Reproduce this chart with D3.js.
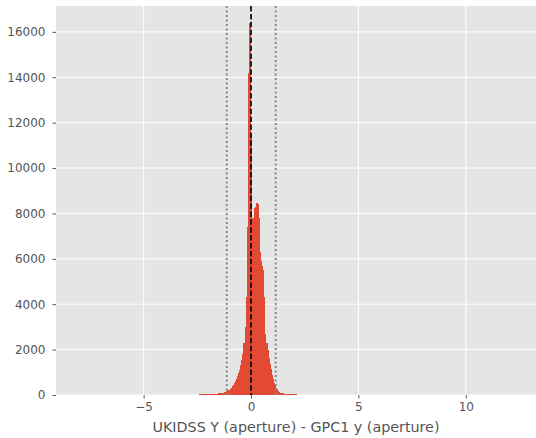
<!DOCTYPE html>
<html>
<head>
<meta charset="utf-8">
<script src="https://cdn.jsdelivr.net/npm/d3@7"></script>
<style>
  body { margin: 0; background: #fff; }
  text { font-family: "DejaVu Sans", sans-serif; }
</style>
</head>
<body>
<div id="chart"></div>
<script>
// histogram bins: left edge of first bin, bin width, counts per bin
let binStart = -2.4;
let binWidth = 0.05;
let counts = [
  30, 35, 35, 35, 40, 40, 40, 40, 40, 45,
  45, 45, 50, 50, 55, 60, 65, 70, 75, 80,
  90, 100, 110, 130, 150, 170, 200, 230, 270, 320,
  380, 440, 520, 600, 700, 820, 950, 1100, 1300, 1550,
  1800, 2300, 3000, 4300, 7400, 14200, 16400, 16400, 11500, 7800,
  7800, 8250, 8300, 8450, 8400, 7800, 6300, 5900, 5700, 5500,
  4300, 2700, 2300, 2000, 1650, 1350, 1150, 900, 700, 530,
  420, 320, 250, 180, 130, 100, 85, 75, 65, 60,
  55, 50, 50, 45, 45, 40, 40, 40, 35, 35
];

let xTicks = [-5, 0, 5, 10];
let yTicks = [0, 2000, 4000, 6000, 8000, 10000, 12000, 14000, 16000];
let xDomain = [-9.08, 13.27];
let yDomain = [0, 17140];

let medianLine = 0;
let limitLines = [-1.13, 1.15];
let xLabel = "UKIDSS Y (aperture) - GPC1 y (aperture)";

let bins = counts.map((c, i) => ({x0: binStart + i * binWidth, x1: binStart + (i + 1) * binWidth, count: c}));

let svgWidth = 536;
let svgHeight = 438;
let margin = {top: 6, right: 0, bottom: 43, left: 56};
let width = svgWidth - margin.left - margin.right;
let height = svgHeight - margin.top - margin.bottom;

let svg = d3.select("#chart")
    .append("svg")
    .attr("width", svgWidth)
    .attr("height", svgHeight);

let chartGroup = svg.append("g")
    .attr("transform", `translate(${margin.left}, ${margin.top})`);

let x = d3.scaleLinear().domain(xDomain).range([0, width]);
let y = d3.scaleLinear().domain(yDomain).range([height, 0]);

// background
chartGroup.append("rect")
    .attr("width", width)
    .attr("height", height)
    .attr("fill", "#e5e5e5");

// grid
chartGroup.selectAll(".vgrid")
    .data(xTicks)
    .enter()
    .append("line")
    .attr("x1", d => x(d)).attr("x2", d => x(d))
    .attr("y1", 0).attr("y2", height)
    .attr("stroke", "#fff")
    .attr("stroke-width", 1);

chartGroup.selectAll(".hgrid")
    .data(yTicks)
    .enter()
    .append("line")
    .attr("x1", 0).attr("x2", width)
    .attr("y1", d => y(d)).attr("y2", d => y(d))
    .attr("stroke", "#fff")
    .attr("stroke-width", 1);

// bars
chartGroup.selectAll(".bar")
    .data(bins)
    .enter()
    .append("rect")
    .attr("x", d => x(d.x0))
    .attr("width", d => x(d.x1) - x(d.x0) + 0.4)
    .attr("y", d => y(d.count))
    .attr("height", d => y(0) - y(d.count))
    .attr("fill", "#e24a33")
    .attr("shape-rendering", "crispEdges");

// reference lines
chartGroup.selectAll(".limit")
    .data(limitLines)
    .enter()
    .append("line")
    .attr("x1", d => x(d)).attr("x2", d => x(d))
    .attr("y1", 0).attr("y2", height)
    .attr("stroke", "#888")
    .attr("stroke-width", 2)
    .attr("stroke-dasharray", "2,2.5");

chartGroup.append("line")
    .attr("x1", x(medianLine)).attr("x2", x(medianLine))
    .attr("y1", 0).attr("y2", height)
    .attr("stroke", "#111")
    .attr("stroke-width", 1.8)
    .attr("stroke-dasharray", "5.5,2.4");

// axes
let bottomAxis = d3.axisBottom(x).tickValues(xTicks).tickSize(3.5).tickPadding(4);
let leftAxis = d3.axisLeft(y).tickValues(yTicks).tickSize(3.5).tickPadding(7).tickFormat(d3.format("d"));

let gx = chartGroup.append("g")
    .attr("transform", `translate(0, ${height})`)
    .call(bottomAxis);
let gy = chartGroup.append("g")
    .call(leftAxis);

[gx, gy].forEach(g => {
    g.select(".domain").remove();
    g.selectAll(".tick line").attr("stroke", "#555");
    g.selectAll(".tick text").attr("fill", "#555").attr("font-size", 12).attr("font-family", "DejaVu Sans");
});

chartGroup.append("text")
    .attr("x", width / 2)
    .attr("y", height + 37)
    .attr("text-anchor", "middle")
    .attr("font-size", 14.3)
    .attr("fill", "#555")
    .text(xLabel);
</script>
</body>
</html>
